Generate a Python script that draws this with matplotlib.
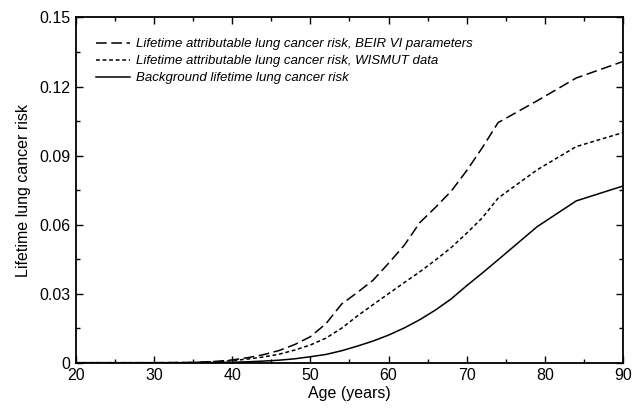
import matplotlib
matplotlib.use("Agg")
from matplotlib import pyplot as plt
from matplotlib.ticker import MultipleLocator, FuncFormatter

plt.rcParams['font.family'] = ['Liberation Sans', 'DejaVu Sans']

ages = [20, 25, 30, 35, 38, 40, 42, 44, 46, 48, 50, 52, 54, 56, 58, 60,
        62, 64, 66, 68, 70, 72, 74, 79, 84, 90]

# lifetime attributable risk, BEIR VI parameters
risk_beir = [0, 0, 0, 0.0001, 0.0006, 0.0012, 0.0022, 0.0035, 0.0053, 0.0079,
             0.0113, 0.0170, 0.0255, 0.0305, 0.0358, 0.0432, 0.0510, 0.0609,
             0.0675, 0.0745, 0.0835, 0.0935, 0.1043, 0.1138, 0.1237, 0.1309]

# lifetime attributable risk, WISMUT data
risk_wismut = [0, 0, 0, 0.0001, 0.0004, 0.0009, 0.0016, 0.0025, 0.0037, 0.0055,
               0.0077, 0.0107, 0.0150, 0.0203, 0.0252, 0.0300, 0.0348, 0.0395,
               0.0446, 0.0500, 0.0563, 0.0630, 0.0715, 0.0838, 0.0939, 0.1000]

# background lifetime risk
risk_background = [0, 0, 0, 0, 0.0001, 0.0002, 0.0004, 0.0007, 0.0011, 0.0017,
                   0.0026, 0.0036, 0.0052, 0.0072, 0.0094, 0.0120, 0.0151, 0.0187,
                   0.0229, 0.0277, 0.0335, 0.0390, 0.0447, 0.0591, 0.0703, 0.0768]

labels = ['Lifetime attributable lung cancer risk, BEIR VI parameters',
          'Lifetime attributable lung cancer risk, WISMUT data',
          'Background lifetime lung cancer risk']

fig = plt.figure(figsize=(6.32, 4.11), dpi=100)
ax = fig.add_axes([0.120, 0.1175, 0.866, 0.8400])

ax.plot(ages, risk_beir, color='black', lw=1.1, dashes=(7, 3), label=labels[0])
ax.plot(ages, risk_wismut, color='black', lw=1.1, dashes=(2.5, 1.8), label=labels[1])
ax.plot(ages, risk_background, color='black', lw=1.1, label=labels[2])

ax.set_xlim(20, 90)
ax.set_ylim(0, 0.15)
ax.xaxis.set_major_locator(MultipleLocator(10))
ax.xaxis.set_minor_locator(MultipleLocator(5))
ax.yaxis.set_major_locator(MultipleLocator(0.03))
ax.yaxis.set_minor_locator(MultipleLocator(0.015))
ax.yaxis.set_major_formatter(FuncFormatter(lambda v, p: '0' if abs(v) < 1e-9 else f'{v:.2f}'))

ax.tick_params(which='both', direction='in', top=True, right=True, labelsize=11.5, width=1.0)
ax.tick_params(which='major', length=5, pad=4)
ax.tick_params(which='minor', length=3)
for sp in ax.spines.values():
    sp.set_linewidth(1.3)

ax.set_xlabel('Age (years)', fontsize=11.5, labelpad=2)
ax.set_ylabel('Lifetime lung cancer risk', fontsize=11.5, labelpad=6)

leg = ax.legend(loc='upper left', bbox_to_anchor=(0.015, 0.975), frameon=False,
                handlelength=2.6, handletextpad=0.45, labelspacing=0.36,
                prop={'style': 'italic', 'size': 9.5})

fig.savefig('out.png', dpi=100)
